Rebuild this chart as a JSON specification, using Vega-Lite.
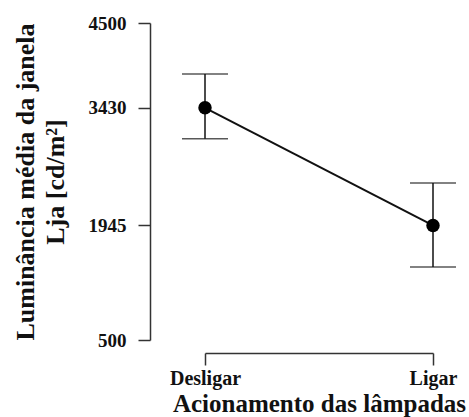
{
  "$schema": "https://vega.github.io/schema/vega-lite/v6.json",
  "width": 300,
  "height": 317,
  "autosize": {"type": "none"},
  "padding": {"left": 150, "top": 23, "right": 19, "bottom": 77},
  "background": "white",
  "config": {
    "view": {"stroke": null},
    "font": "Liberation Serif",
    "axis": {
      "grid": false,
      "labelFont": "Liberation Serif",
      "labelFontWeight": "bold",
      "labelFontSize": 19,
      "labelColor": "#111",
      "titleFont": "Liberation Serif",
      "titleFontWeight": "bold",
      "titleFontSize": 26,
      "titleColor": "#111",
      "domainColor": "#333",
      "domainWidth": 1.5,
      "tickColor": "#333",
      "tickWidth": 1.5,
      "tickSize": 12
    }
  },
  "data": {
    "values": [
      {"cond": "Desligar", "mean": 3430, "lo": 3040, "hi": 3855},
      {"cond": "Ligar", "mean": 1945, "lo": 1420, "hi": 2480}
    ]
  },
  "encoding": {
    "x": {
      "field": "cond",
      "type": "nominal",
      "scale": {"type": "point", "range": [55, 283], "padding": 0},
      "axis": {
        "title": "Acionamento das lâmpadas",
        "labelAngle": 0,
        "labelFontSize": 20,
        "offset": 13,
        "labelPadding": 3,
        "titlePadding": 3,
        "titleFontSize": 25
      }
    }
  },
  "layer": [
    {
      "mark": {"type": "rule", "color": "#111", "strokeWidth": 1.5},
      "encoding": {
        "y": {
          "field": "lo",
          "type": "quantitative",
          "scale": {"domain": [500, 4500], "nice": false, "zero": false},
          "axis": {
            "title": ["Luminância média da janela", "Lja [cd/m²]"],
            "values": [500, 1945, 3430, 4500],
            "format": "d",
            "labelPadding": 12,
            "titlePadding": 20,
            "titleLineHeight": 30
          }
        },
        "y2": {"field": "hi"}
      }
    },
    {
      "mark": {"type": "tick", "color": "#111", "size": 46, "thickness": 1.5},
      "encoding": {"y": {"field": "lo", "type": "quantitative"}}
    },
    {
      "mark": {"type": "tick", "color": "#111", "size": 46, "thickness": 1.5},
      "encoding": {"y": {"field": "hi", "type": "quantitative"}}
    },
    {
      "mark": {"type": "line", "color": "#111", "strokeWidth": 2},
      "encoding": {"y": {"field": "mean", "type": "quantitative"}}
    },
    {
      "mark": {"type": "point", "filled": true, "color": "#000", "size": 180, "opacity": 1},
      "encoding": {"y": {"field": "mean", "type": "quantitative"}}
    }
  ]
}
